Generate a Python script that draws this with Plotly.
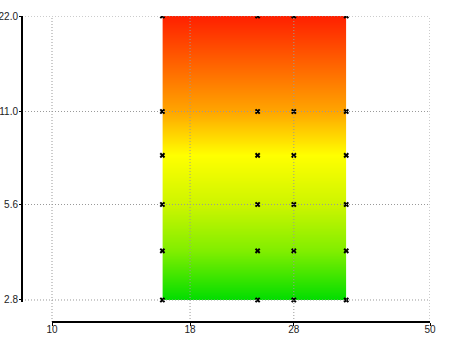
import plotly.graph_objects as go
import numpy as np

# Data
x_vals = [16, 24, 28, 35]
y_vals = [2.8, 4, 5.6, 8, 11, 22]
row_level = [0, 1, 2, 3, 4, 5]          # colour level of each row (bottom -> top)
level_colors = ["#00DD00", "#80EE00", "#CCF500", "#FFFF00", "#FFA500", "#FF2000"]

x_ticks = [10, 18, 28, 50]
y_ticks = [2.8, 5.6, 11.0, 22.0]
y_tick_text = ["2.8", "5.6", "11.0", "22.0"]

z = [[lvl for _ in x_vals] for lvl in row_level]
n = len(level_colors) - 1
colorscale = [[i / n, c] for i, c in enumerate(level_colors)]

fig = go.Figure()
fig.add_trace(go.Contour(
    x=x_vals, y=y_vals, z=z,
    colorscale=colorscale, zmin=row_level[0], zmax=row_level[-1],
    contours=dict(coloring="heatmap", showlines=False),
    line=dict(width=0), showscale=False, hoverinfo="skip",
))

mx = [xv for yv in y_vals for xv in x_vals]
my = [yv for yv in y_vals for xv in x_vals]
fig.add_trace(go.Scatter(
    x=mx, y=my, mode="markers",
    marker=dict(symbol="x", size=5, color="black", line=dict(width=0)),
    hoverinfo="skip", showlegend=False,
))

# Ranges: extend beyond the ticks so the axes sit detached from the data area
xlo = np.log10(x_ticks[0]) - 0.05547
xhi = np.log10(x_ticks[-1])
ylo = np.log10(y_ticks[0]) - 0.0694
yhi = np.log10(y_ticks[-1])

shapes = []
grid = dict(color="#999999", width=1, dash="1px,2px")
for xv in x_ticks:
    shapes.append(dict(type="line", xref="x", yref="paper", x0=xv, x1=xv, y0=0, y1=1,
                       line=grid, layer="above"))
for yv in y_ticks:
    shapes.append(dict(type="line", xref="paper", yref="y", x0=0, x1=1, y0=yv, y1=yv,
                       line=grid, layer="above"))
# axis lines spanning only the tick extent
shapes.append(dict(type="line", xref="x", yref="paper", x0=x_ticks[0], x1=x_ticks[-1],
                   y0=0, y1=0, line=dict(color="black", width=2), layer="above"))
shapes.append(dict(type="line", xref="paper", yref="y", x0=0, x1=0,
                   y0=y_ticks[0] * 0.985, y1=y_ticks[-1], line=dict(color="black", width=2),
                   layer="above"))

fig.update_layout(
    width=450, height=337,
    margin=dict(l=22, r=20, t=16, b=15, autoexpand=False),
    paper_bgcolor="white", plot_bgcolor="white",
    showlegend=False,
    font=dict(family="Liberation Sans, Arial, sans-serif", size=10, color="#222222"),
    shapes=shapes,
    xaxis=dict(type="log", range=[xlo, xhi], tickvals=x_ticks, ticktext=[str(v) for v in x_ticks],
               showgrid=False, zeroline=False, showline=False, automargin=False,
               ticks="outside", ticklen=3, tickcolor="black", tickwidth=1,
               ticklabelstandoff=-5),
    yaxis=dict(type="log", range=[ylo, yhi], tickvals=y_ticks, ticktext=y_tick_text,
               showgrid=False, zeroline=False, showline=False, automargin=False,
               ticks="outside", ticklen=2, tickcolor="black", tickwidth=1,
               ticklabelstandoff=-1),
)

fig.write_html("out.html")
